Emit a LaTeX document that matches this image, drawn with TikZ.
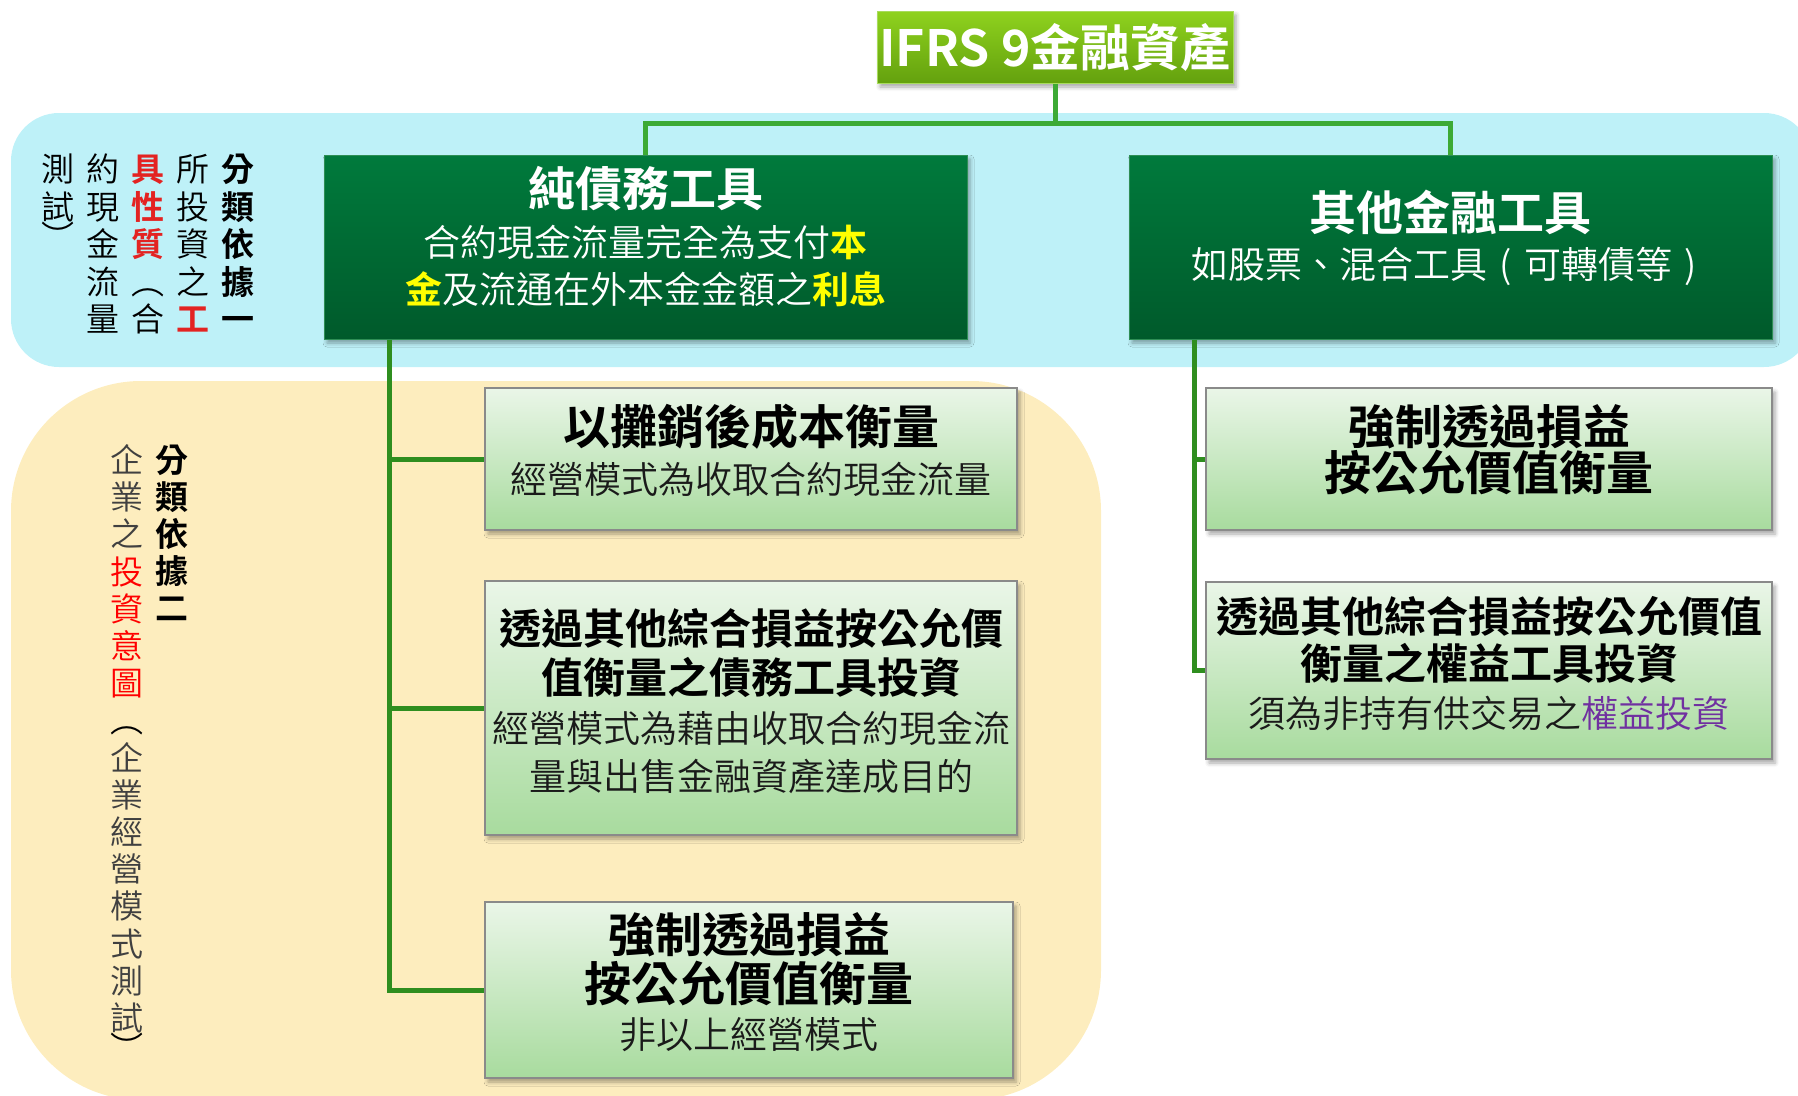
\documentclass[tikz,border=0pt]{standalone}
\usepackage{fontspec}
\setmainfont{Noto Sans CJK TC}[UprightFont={Noto Sans CJK TC DemiLight}, BoldFont={Noto Sans CJK TC Bold}]
\usetikzlibrary{shadows.blur,calc}
\newcommand\fsz[1]{\fontsize{#1}{#1}\selectfont}
\definecolor{bandblue}{HTML}{BEF1F8}
\definecolor{yellowbg}{HTML}{FDEDBE}
\definecolor{hubgreen}{HTML}{3DAA35}
\definecolor{trunkgreen}{HTML}{2F8E1F}
\definecolor{dgtop}{HTML}{007A3C}
\definecolor{dgbot}{HTML}{005A2B}
\definecolor{dgedge}{HTML}{2E8E55}
\definecolor{lgtop}{HTML}{EAF6E8}
\definecolor{lgbot}{HTML}{A8DB9E}
\definecolor{lbedge}{HTML}{8A8A8A}
\definecolor{ttop}{HTML}{8FD21E}
\definecolor{tbot}{HTML}{64A10E}
\definecolor{tedge}{HTML}{A8DC5C}
\definecolor{yel}{HTML}{FFFF00}
\definecolor{purp}{HTML}{7030A0}
\definecolor{vred}{HTML}{E32322}
\definecolor{red2}{HTML}{FF0000}
\definecolor{gtxt}{HTML}{404040}
\definecolor{btxt}{HTML}{1A1A1A}
\begin{document}
\begin{tikzpicture}[x=1pt,y=-1pt,
  conn/.style={line width=5pt, draw=hubgreen},
  trunk/.style={line width=5pt, draw=trunkgreen},
  shd/.style={blur shadow={shadow xshift=3pt, shadow yshift=-4pt, shadow blur radius=4pt, shadow opacity=35}},
  darkbox/.style={shd, draw=dgedge, line width=1pt, top color=dgtop, bottom color=dgbot, inner sep=0pt},
  lightbox/.style={shd, draw=lbedge, line width=1.5pt, top color=lgtop, bottom color=lgbot, inner sep=0pt},
  titlebox/.style={shd, draw=tedge, line width=1pt, top color=ttop, bottom color=tbot, inner sep=0pt},
  txt/.style={inner sep=0pt, anchor=center},
  hd/.style={txt, font=\fsz{47}\bfseries},
  hdm/.style={txt, font=\fsz{42}\bfseries},
  sub/.style={txt, font=\fsz{37}},
  vch/.style={inner sep=0pt, anchor=base, font=\fsz{33}},
  vpar/.style={inner sep=0pt, anchor=center, rotate=-90, font=\fsz{33}},
]
\useasboundingbox (0,0) rectangle (1798,1095);
\clip (0,0) rectangle (1798,1095);
% backgrounds
\fill[bandblue, rounded corners=48pt] (11,113) rectangle (1812,367);
\fill[yellowbg, rounded corners=130pt] (11,381) rectangle (1101,1100);

% boxes
\node[titlebox, minimum width=356pt, minimum height=72pt, text=white, font=\fsz{50}\bfseries] (T) at (1055,47) {IFRS 9金融資產};
\node[darkbox, minimum width=643pt, minimum height=184pt] (L) at (645.5,247) {};
\node[darkbox, minimum width=643pt, minimum height=184pt] (R) at (1450.5,247) {};
\node[lightbox, minimum width=532pt, minimum height=142pt] (L1) at (751,459) {};
\node[lightbox, minimum width=532pt, minimum height=254pt] (L2) at (751,708) {};
\node[lightbox, minimum width=528pt, minimum height=176pt] (L3) at (749,990) {};
\node[lightbox, minimum width=566pt, minimum height=142pt] (R1) at (1489,459) {};
\node[lightbox, minimum width=566pt, minimum height=177pt] (R2) at (1489,670.5) {};

% connectors
\draw[conn] (T.south) -- ++(0,40) coordinate (hub) -| (L.north);
\draw[conn] (hub) -| (R.north);
\coordinate (LT) at ($(L.south west)+(66,0)$);
\draw[trunk] (LT) |- (L3.west);
\draw[trunk] (LT |- L1.west) -- (L1.west);
\draw[trunk] (LT |- L2.west) -- (L2.west);
\coordinate (RT) at ($(R.south west)+(66,0)$);
\draw[trunk] (RT) |- (R2.west);
\draw[trunk] (RT |- R1.west) -- (R1.west);

% texts in dark boxes
\node[hd, text=white] (Lh) at (645.5,189) {純債務工具};
\node[sub, text=white] (Ls1) at (645.5,242) {合約現金流量完全為支付{\bfseries\color{yel}本}};
\node[sub, text=white] (Ls2) at (645.5,289) {{\bfseries\color{yel}金}及流通在外本金金額之{\bfseries\color{yel}利息}};
\node[hd, text=white] (Rh) at (1450.5,212) {其他金融工具};
\node[sub, text=white] (Rs) at (1450.5,266) {如股票、混合工具\makebox[37pt][c]{(}可轉債等\makebox[37pt][c]{)}};

% texts in light boxes
\node[hd, text=black] (L1h) at (751,427) {以攤銷後成本衡量};
\node[sub, text=btxt] (L1s) at (751,479) {經營模式為收取合約現金流量};
\node[hdm, text=black] (L2h1) at (751,628) {透過其他綜合損益按公允價};
\node[hdm, text=black] (L2h2) at (751,677) {值衡量之債務工具投資};
\node[sub, text=btxt] (L2s1) at (751,728) {經營模式為藉由收取合約現金流};
\node[sub, text=btxt] (L2s2) at (751,776) {量與出售金融資產達成目的};
\node[hd, text=black] (L3h1) at (749,935) {強制透過損益};
\node[hd, text=black] (L3h2) at (749,983) {按公允價值衡量};
\node[sub, text=btxt] (L3s) at (749,1035) {非以上經營模式};
\node[hd, text=black] (R1h1) at (1489,427) {強制透過損益};
\node[hd, text=black] (R1h2) at (1489,472) {按公允價值衡量};
\node[hdm, text=black] (R2h1) at (1489,616) {透過其他綜合損益按公允價值};
\node[hdm, text=black] (R2h2) at (1489,663) {衡量之權益工具投資};
\node[sub, text=btxt] (R2s) at (1489,713) {須為非持有供交易之{\color{purp}權益投資}};

% vertical text in blue band
\foreach \c [count=\i from 0] in {分,類,依,據,一}
  \node[vch, font=\fsz{33}\bfseries] (ba\i) at (238,{169+37.5*\i+12.5}) {\c};
\foreach \c [count=\i from 0] in {所,投,資,之,{\textcolor{vred}{\bfseries 工}}}
  \node[vch] (bb\i) at (193,{169+37.5*\i+12.5}) {\c};
\foreach \c [count=\i from 0] in {{\textcolor{vred}{\bfseries 具}},{\textcolor{vred}{\bfseries 性}},{\textcolor{vred}{\bfseries 質}}}
  \node[vch] (bc\i) at (148,{169+37.5*\i+12.5}) {\c};
\node[vpar] (bc3) at (148,281.5) {（};
\node[vch] (bc4) at (148,{169+37.5*4+12.5}) {合};
\foreach \c [count=\i from 0] in {約,現,金,流,量}
  \node[vch] (bd\i) at (103,{169+37.5*\i+12.5}) {\c};
\foreach \c [count=\i from 0] in {測,試}
  \node[vch] (be\i) at (58,{169+37.5*\i+12.5}) {\c};
\node[vpar] (be2) at (58,237) {）};

% vertical text in yellow region
\foreach \c [count=\i from 0] in {分,類,依,據,二}
  \node[vch, font=\fsz{33}\bfseries] (ya\i) at (172,{460+37*\i+12.5}) {\c};
\foreach \c [count=\i from 0] in {企,業,之,{\textcolor{red2}{投}},{\textcolor{red2}{資}},{\textcolor{red2}{意}},{\textcolor{red2}{圖}}}
  \node[vch, text=gtxt] (yb\i) at (127,{460+37.2*\i+12.5}) {\c};
\node[vpar] (yp1) at (127,720.4) {（};
\foreach \c [count=\i from 8] in {企,業,經,營,模,式,測,試}
  \node[vch, text=gtxt] (yb\i) at (127,{460+37.2*\i+12.5}) {\c};
\node[vpar] (yp2) at (127,1048) {）};
\end{tikzpicture}
\end{document}
